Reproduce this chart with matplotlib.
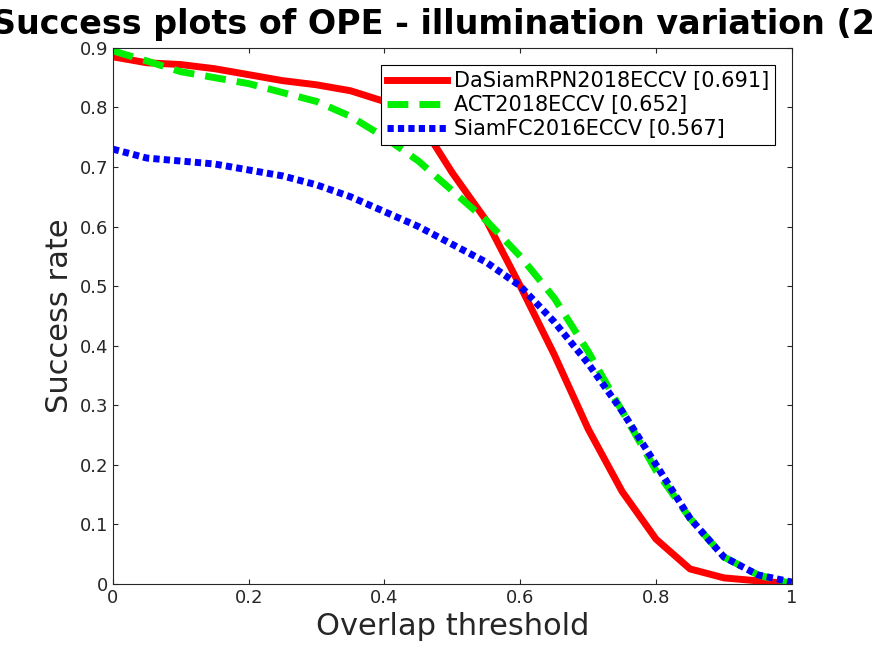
import numpy as np
import matplotlib
matplotlib.use("Agg")
import matplotlib.pyplot as plt

thresholds = np.linspace(0, 1, 21)
dasiamrpn = [0.885, 0.875, 0.872, 0.865, 0.855, 0.845, 0.838, 0.828, 0.81, 0.78, 0.69,
             0.61, 0.50, 0.385, 0.26, 0.155, 0.075, 0.025, 0.01, 0.005, 0.0]
act = [0.895, 0.878, 0.86, 0.85, 0.84, 0.825, 0.81, 0.785, 0.75, 0.71, 0.66,
       0.61, 0.55, 0.48, 0.39, 0.29, 0.19, 0.11, 0.045, 0.015, 0.0]
siamfc = [0.73, 0.715, 0.71, 0.705, 0.695, 0.685, 0.67, 0.65, 0.625, 0.6, 0.57,
          0.54, 0.50, 0.44, 0.37, 0.29, 0.2, 0.11, 0.045, 0.015, 0.003]
labels = ["DaSiamRPN2018ECCV [0.691]", "ACT2018ECCV [0.652]", "SiamFC2016ECCV [0.567]"]

fig = plt.figure(figsize=(8.75, 6.56), dpi=100)
ax = fig.add_axes([0.129, 0.11, 0.776, 0.817])

ax.plot(thresholds, dasiamrpn, color="red", lw=5, ls="-", label=labels[0])
ax.plot(thresholds, act, color="#00ee00", lw=5, ls=(0, (3, 1.6)), label=labels[1])
ax.plot(thresholds, siamfc, color="blue", lw=5, ls=(0, (0.9, 0.6)), label=labels[2])

ax.set_xlim(0, 1)
ax.set_ylim(0, 0.9)
ax.set_xticks(np.arange(0, 1.01, 0.2))
ax.set_xticklabels(["0", "0.2", "0.4", "0.6", "0.8", "1"])
ax.set_yticks(np.arange(0, 0.91, 0.1))
ax.set_yticklabels(["0"] + [f"{v:.1f}" for v in np.arange(0.1, 0.91, 0.1)])
ax.tick_params(labelsize=13, colors="#262626", direction="in", top=True, right=True)
for s in ax.spines.values():
    s.set_color("#262626")
ax.set_xlabel("Overlap threshold", fontsize=22, color="#262626")
ax.set_ylabel("Success rate", fontsize=22, color="#262626")
ax.set_title("Success plots of OPE - illumination variation (25)", fontsize=24,
             fontweight="bold", pad=10)

leg = ax.legend(loc="upper right", fontsize=15, fancybox=False, framealpha=1,
                edgecolor="black", handlelength=2.9, borderaxespad=0.8,
                borderpad=0.3, labelspacing=0.2, handletextpad=0.3)
leg.get_frame().set_linewidth(0.8)

fig.savefig("out.png", dpi=100)
